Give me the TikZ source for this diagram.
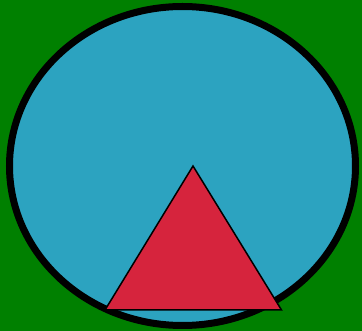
\documentclass[tikz,border=0pt]{standalone}
\definecolor{bgGreen}{RGB}{0,128,0}
\definecolor{discBlue}{RGB}{44,163,192}
\definecolor{triRed}{RGB}{214,36,61}
\tikzset{
  disc/.style={draw=black, line width=7pt, fill=discBlue},
  tri/.style={draw=black, line width=1.5pt, fill=triRed, line join=miter}
}
\begin{document}
\begin{tikzpicture}[x=1pt,y=-1pt]
\useasboundingbox (0,0) rectangle (362,331);
\fill[bgGreen] (0,0) rectangle (362,331);
\draw[disc] (182.5,166) ellipse [x radius=173, y radius=159.5];
\coordinate (apex) at (193,166);
\coordinate (bl) at (105,310);
\coordinate (br) at (281.5,310);
\draw[tri] (apex) -- (br) -- (bl) -- cycle;
\end{tikzpicture}
\end{document}
